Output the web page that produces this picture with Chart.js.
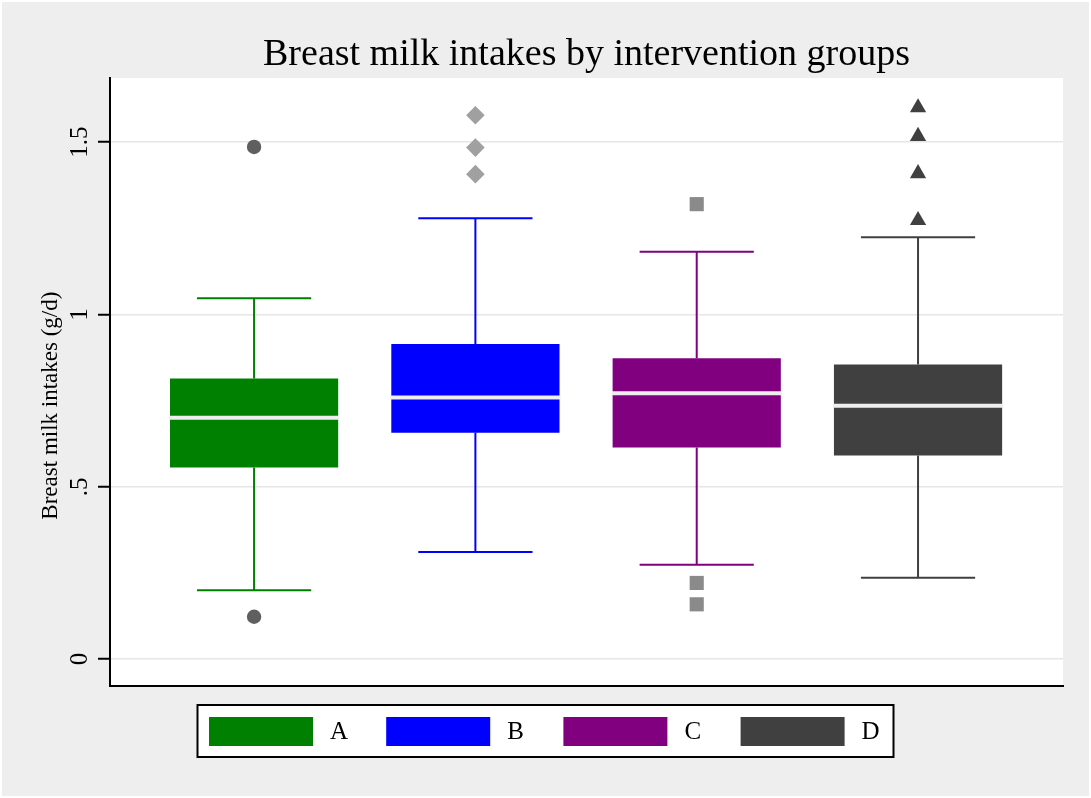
<!DOCTYPE html>
<html>
<head>
<meta charset="utf-8">
<title>Breast milk intakes by intervention groups</title>
<script src="https://cdn.jsdelivr.net/npm/chart.js@4.4.1/dist/chart.umd.min.js"></script>
<style>
  html, body { margin: 0; padding: 0; background: #fff; }
  canvas { display: block; }
</style>
</head>
<body>
<canvas id="grafico" width="1091" height="798"></canvas>
<script>
// datos
const GROUPS        = ['A', 'B', 'C', 'D'];
const LOWER_WHISKER = [0.200, 0.311, 0.274, 0.236];
const Q1            = [0.556, 0.657, 0.614, 0.591];
const MEDIAN        = [0.700, 0.759, 0.771, 0.735];
const Q3            = [0.814, 0.914, 0.873, 0.855];
const UPPER_WHISKER = [1.047, 1.279, 1.182, 1.224];
const OUTLIERS_A    = [1.486, 0.123];
const OUTLIERS_B    = [1.578, 1.484, 1.407];
const OUTLIERS_C    = [1.320, 0.221, 0.159];
const OUTLIERS_D    = [1.600, 1.517, 1.409, 1.273];
const TICK_VALUES   = [0, 0.5, 1, 1.5];
const TICK_LABELS   = ['0', '.5', '1', '1.5'];

const TITLE   = 'Breast milk intakes by intervention groups';
const Y_TITLE = 'Breast milk intakes (g/d)';
const SERIF   = '"Liberation Serif", "Times New Roman", serif';

const BOX_COLORS = ['#008000', '#0000ff', '#800080', '#404040'];
const COLORS = {
  region: '#eeeeee',
  grid: '#e6e6e6',
  axis: '#000000',
  median: '#eeeeee'
};
const MARKERS = [
  { style: 'circle',   radius: 7.2, color: '#5f5f5f' },
  { style: 'rectRot',  radius: 9.3, color: '#a0a0a0' },
  { style: 'rect',     radius: 10,  color: '#8a8a8a' },
  { style: 'triangle', radius: 9.4, color: '#404040' }
];
const OUTLIERS = [OUTLIERS_A, OUTLIERS_B, OUTLIERS_C, OUTLIERS_D];

const BOX_WIDTH = 0.76;   // en unidades del eje x (distancia entre grupos = 1)
const CAP_HALF  = 0.258;
const MED_HALF  = 0.385;

const gap = (x) => ({ x, y: null });

function whiskerPoints(i) {
  const x = i + 1;
  return [
    { x, y: Q3[i] }, { x, y: UPPER_WHISKER[i] }, gap(x),
    { x, y: Q1[i] }, { x, y: LOWER_WHISKER[i] }, gap(x),
    { x: x - CAP_HALF, y: UPPER_WHISKER[i] }, { x: x + CAP_HALF, y: UPPER_WHISKER[i] }, gap(x),
    { x: x - CAP_HALF, y: LOWER_WHISKER[i] }, { x: x + CAP_HALF, y: LOWER_WHISKER[i] }
  ];
}

function medianPoints() {
  const pts = [];
  GROUPS.forEach((g, i) => {
    const x = i + 1;
    pts.push({ x: x - MED_HALF, y: MEDIAN[i] }, { x: x + MED_HALF, y: MEDIAN[i] }, gap(x));
  });
  return pts;
}

const datasets = [];

datasets.push({
  type: 'bar',
  label: 'cajas',
  data: GROUPS.map((g, i) => ({ x: i + 1, y: [Q1[i], Q3[i]] })),
  backgroundColor: BOX_COLORS,
  borderWidth: 0,
  barPercentage: BOX_WIDTH,
  categoryPercentage: 1,
  grouped: false,
  order: 2
});

datasets.push({
  type: 'line',
  label: 'medianas',
  data: medianPoints(),
  borderColor: COLORS.median,
  borderWidth: 4,
  pointRadius: 0,
  spanGaps: false,
  fill: false,
  tension: 0,
  order: 0
});

GROUPS.forEach((g, i) => {
  datasets.push({
    type: 'line',
    label: 'bigotes ' + g,
    data: whiskerPoints(i),
    borderColor: BOX_COLORS[i],
    borderWidth: 2,
    borderCapStyle: 'butt',
    pointRadius: 0,
    spanGaps: false,
    fill: false,
    tension: 0,
    order: 3
  });
});

GROUPS.forEach((g, i) => {
  const m = MARKERS[i];
  datasets.push({
    type: 'line',
    label: 'atipicos ' + g,
    data: OUTLIERS[i].map(v => ({ x: i + 1, y: v })),
    showLine: false,
    pointStyle: m.style,
    pointRadius: m.radius,
    pointBackgroundColor: m.color,
    pointBorderColor: m.color,
    pointBorderWidth: 0,
    order: 1
  });
});

// fondo gris del grafico y region blanca del area de trazado
const fondo = {
  id: 'fondo',
  beforeDraw(chart) {
    const { ctx, width, height, chartArea: a } = chart;
    ctx.save();
    ctx.fillStyle = '#ffffff';
    ctx.fillRect(0, 0, width, height);
    ctx.fillStyle = COLORS.region;
    ctx.fillRect(2, 2, width - 4, height - 4);
    ctx.fillStyle = '#ffffff';
    ctx.fillRect(a.left, a.top, a.right - a.left, a.bottom - a.top);
    ctx.restore();
  }
};

// etiquetas verticales del eje y y su titulo
const ejeY = {
  id: 'ejeY',
  afterDraw(chart) {
    const { ctx } = chart;
    const y = chart.scales.y;
    ctx.save();
    ctx.fillStyle = COLORS.axis;
    ctx.textAlign = 'center';
    ctx.textBaseline = 'alphabetic';

    ctx.font = '25px ' + SERIF;
    TICK_VALUES.forEach((v, i) => {
      ctx.save();
      ctx.translate(y.right - 23, y.getPixelForValue(v));
      ctx.rotate(-Math.PI / 2);
      ctx.fillText(TICK_LABELS[i], 0, 0);
      ctx.restore();
    });

    ctx.font = '23px ' + SERIF;
    ctx.translate(y.right - 53, y.getPixelForValue(0.75) + 5);
    ctx.rotate(-Math.PI / 2);
    ctx.fillText(Y_TITLE, 0, 0);
    ctx.restore();
  }
};

// leyenda con marco, como en Stata
const leyenda = {
  id: 'leyenda',
  afterDraw(chart) {
    const { ctx, width, chartArea: a } = chart;
    const w = 696, h = 52;
    const left = (width - w) / 2;
    const top = a.bottom + 19;
    ctx.save();
    ctx.fillStyle = '#ffffff';
    ctx.fillRect(left, top, w, h);
    ctx.strokeStyle = COLORS.axis;
    ctx.lineWidth = 2;
    ctx.strokeRect(left, top, w, h);
    ctx.font = '25px ' + SERIF;
    ctx.textAlign = 'left';
    ctx.textBaseline = 'middle';
    GROUPS.forEach((g, i) => {
      const sx = left + 11.5 + i * 177.2;
      ctx.fillStyle = BOX_COLORS[i];
      ctx.fillRect(sx, top + 12, 104, 29);
      ctx.fillStyle = COLORS.axis;
      ctx.fillText(g, sx + 104 + 17, top + 27.5);
    });
    ctx.restore();
  }
};

new Chart(document.getElementById('grafico'), {
  type: 'bar',
  data: { datasets },
  options: {
    responsive: false,
    animation: false,
    devicePixelRatio: 1,
    layout: { padding: { left: 0, right: 28, top: 0, bottom: 112 } },
    plugins: {
      legend: { display: false },
      tooltip: { enabled: false },
      title: {
        display: true,
        text: TITLE,
        fullSize: false,
        color: COLORS.axis,
        font: { family: SERIF, size: 38, weight: 'normal' },
        padding: { top: 32.4, bottom: 0 }
      }
    },
    scales: {
      x: {
        type: 'linear',
        min: 0.349,
        max: 4.655,
        offset: false,
        afterBuildTicks: (s) => { s.ticks = GROUPS.map((g, i) => ({ value: i + 1 })); },
        ticks: { display: false },
        grid: { display: false, drawTicks: false },
        border: { display: true, color: COLORS.axis, width: 2 }
      },
      y: {
        type: 'linear',
        min: -0.078,
        max: 1.686,
        afterBuildTicks: (s) => { s.ticks = TICK_VALUES.map(v => ({ value: v })); },
        afterFit: (s) => { s.width = 110; },
        ticks: { display: false },
        grid: {
          color: COLORS.grid,
          lineWidth: 1.5,
          drawTicks: true,
          tickLength: 12,
          tickWidth: 2,
          tickColor: COLORS.axis
        },
        border: { display: true, color: COLORS.axis, width: 2 }
      }
    }
  },
  plugins: [fondo, ejeY, leyenda]
});
</script>
</body>
</html>
